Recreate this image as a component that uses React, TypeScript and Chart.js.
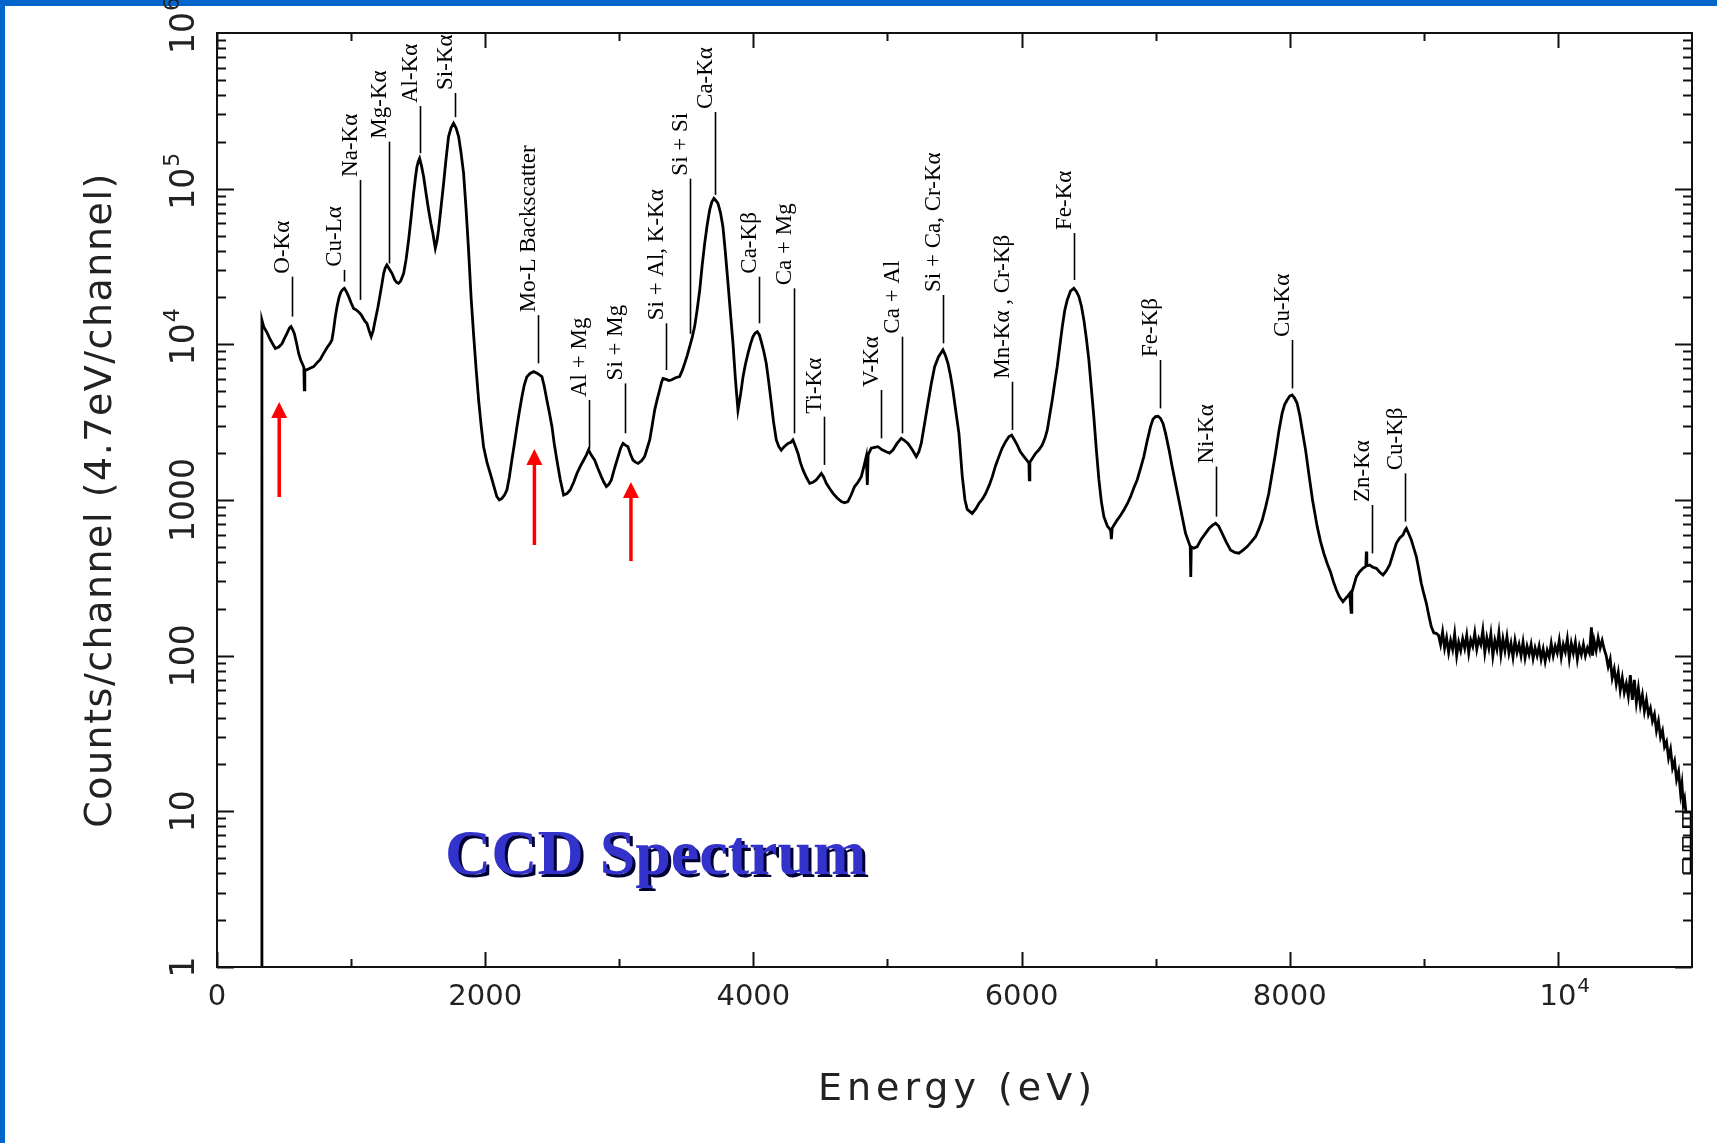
import React, { useEffect, useRef } from "react";
import { Chart, registerables } from "chart.js";

Chart.register(...registerables);

const CANVAS_W = 1717;
const CANVAS_H = 1143;

// ---- spectrum (energy in eV, counts per channel) ----
const energyEV: number[] = [
  335, 335, 348, 375, 398, 420, 435, 460, 485, 505, 522, 540, 552, 565, 577, 593, 609, 625, 640, 648, 651, 655, 666, 690, 721, 745, 770, 795, 820, 845, 857, 870, 882, 895, 910, 925, 940, 950, 965, 982,
  1000, 1019, 1040, 1060, 1075, 1090, 1105, 1118, 1135, 1150, 1165, 1180, 1200, 1218, 1232, 1243, 1255, 1267, 1285, 1305, 1325, 1340, 1354, 1370, 1392, 1410, 1429, 1448, 1466, 1480, 1491, 1502, 1511, 1525, 1541, 1560, 1578, 1595, 1610, 1620, 1628, 1640, 1652, 1670, 1690, 1708, 1727, 1745, 1764, 1783, 1802, 1820, 1839, 1857, 1876, 1895, 1913, 1932, 1951, 1970, 1988,
  2013, 2038, 2062, 2087, 2105, 2125, 2145, 2162, 2180, 2199, 2218, 2237, 2255, 2274, 2292, 2311, 2335, 2361, 2390, 2423, 2440, 2460, 2480, 2498, 2515, 2535, 2560, 2585, 2610, 2634, 2660, 2684, 2710, 2734, 2755, 2771, 2790, 2817, 2840, 2866, 2885, 2904, 2922, 2941, 2965, 2991,
  3010, 3028, 3045, 3065, 3085, 3102, 3120, 3140, 3165, 3189, 3208, 3227, 3245, 3264, 3282, 3301, 3315, 3326, 3350, 3370, 3388, 3420, 3450, 3470, 3488, 3507, 3525, 3543, 3562, 3580, 3600, 3618, 3637, 3655, 3674, 3690, 3706, 3720, 3736, 3755, 3773, 3790, 3811, 3830, 3848, 3866, 3885, 3905, 3923, 3940, 3960, 3978, 3997,
  4013, 4029, 4045, 4059, 4078, 4096, 4115, 4134, 4150, 4171, 4190, 4208, 4230, 4258, 4280, 4295, 4315, 4333, 4350, 4370, 4395, 4420, 4445, 4469, 4490, 4507, 4525, 4544, 4570, 4594, 4625, 4656, 4680, 4705, 4730, 4755, 4780, 4805, 4825, 4842, 4850, 4856, 4879, 4905, 4929, 4960, 4991,
  5015, 5041, 5070, 5103, 5125, 5153, 5185, 5215, 5235, 5252, 5277, 5302, 5327, 5352, 5380, 5414, 5432, 5451, 5470, 5488, 5510, 5533, 5558, 5578, 5595, 5632, 5660, 5682, 5710, 5732, 5760, 5782, 5805, 5831, 5855, 5881, 5905, 5926, 5945, 5968, 5990,
  6018, 6040, 6055, 6058, 6062, 6080, 6105, 6130, 6154, 6175, 6192, 6210, 6229, 6248, 6266, 6285, 6304, 6322, 6341, 6365, 6390, 6410, 6428, 6447, 6465, 6484, 6502, 6520, 6539, 6558, 6577, 6595, 6614, 6640, 6664, 6670, 6676, 6690, 6713, 6740, 6763, 6790, 6813, 6838, 6862, 6888, 6912, 6937, 6962, 6980, 6999,
  7018, 7036, 7055, 7074, 7100, 7123, 7148, 7173, 7198, 7223, 7245, 7258, 7262, 7266, 7285, 7310, 7340, 7372, 7400, 7425, 7447, 7470, 7496, 7525, 7558, 7590, 7621, 7650, 7683, 7715, 7745, 7770, 7795, 7820, 7844, 7870, 7894, 7920, 7943, 7962, 7981,
  8000, 8018, 8037, 8055, 8075, 8093, 8118, 8142, 8170, 8205, 8230, 8254, 8280, 8304, 8325, 8348, 8370, 8397, 8430, 8447, 8458, 8463, 8497, 8520, 8546, 8568, 8571, 8575, 8596, 8620, 8646, 8670, 8696, 8720, 8745, 8770, 8795, 8820, 8845, 8860, 8870, 8890, 8907, 8925, 8944, 8962, 8981,
  9000, 9019, 9038, 9056, 9075, 9093, 9110, 9125, 9140, 9155, 9170, 9185, 9200, 9215, 9230, 9245, 9260, 9275, 9290, 9305, 9320, 9335, 9350, 9365, 9380, 9395, 9410, 9425, 9440, 9455, 9470, 9485, 9500, 9515, 9530, 9545, 9560, 9575, 9590, 9605, 9620, 9635, 9650, 9665, 9680, 9695, 9710, 9725, 9740, 9755, 9770, 9785, 9800, 9815, 9830, 9845, 9860, 9875, 9890, 9905, 9920, 9935, 9950, 9965, 9980, 9995,
  10010, 10025, 10040, 10055, 10070, 10085, 10100, 10115, 10130, 10145, 10160, 10175, 10190, 10205, 10220, 10235, 10250, 10258, 10270, 10285, 10300, 10315, 10330, 10345, 10360, 10375, 10390, 10405, 10420, 10435, 10450, 10465, 10480, 10495, 10510, 10525, 10540, 10555, 10570, 10585, 10600, 10615, 10630, 10645, 10660, 10675, 10690, 10705, 10720, 10735, 10750, 10765, 10780, 10795, 10810, 10825, 10840, 10855, 10870, 10885, 10900, 10915, 10925, 10935, 10945, 10955,
];

const countsPerChannel: number[] = [
  1, 14300, 13000, 11800, 10700, 9900, 9400, 9600, 10100, 11000, 11750, 12700, 13000, 12400, 11700, 10200, 8740, 7900, 7400, 7100, 5100, 6900, 6840, 7000, 7190, 7600, 8000, 8750, 9500, 10200, 10660, 12500, 15000, 17460, 20000, 21800, 22600, 22900, 21800, 20250,
  18500, 17000, 16600, 16000, 15500, 14700, 14000, 13650, 12200, 11200, 12300, 14300, 17300, 21250, 25000, 28560, 31000, 32300, 30500, 28600, 26000, 25000, 24650, 25500, 28600, 35000, 46800, 66000, 93300, 118000, 138000, 150000, 156600, 140000, 119400, 92000, 72900, 60000, 51700, 45500, 41400, 46000, 54300, 75000, 108000, 155000, 216000, 245000, 263000, 245000, 216000, 170000, 125500, 75000, 40400, 20000, 11750, 7000, 4390, 3000, 2200,
  1750, 1480, 1250, 1050, 1000, 1025, 1080, 1160, 1400, 1805, 2300, 2960, 3700, 4610, 5500, 6200, 6500, 6680, 6500, 6200, 5400, 4390, 3600, 2960, 2300, 1800, 1350, 1077, 1100, 1160, 1300, 1480, 1650, 1800, 1950, 2100, 1950, 1800, 1600, 1413, 1300, 1220, 1260, 1345, 1600, 1900,
  2150, 2310, 2250, 2200, 1950, 1805, 1750, 1720, 1780, 1900, 2150, 2430, 3000, 3780, 4400, 5090, 5700, 6040, 5950, 5850, 5900, 6100, 6200, 6800, 7550, 8500, 9660, 11000, 13000, 16500, 22300, 32000, 44500, 58000, 72900, 82000, 86700, 84000, 80500, 70000, 57000, 40000, 24600, 15500, 10150, 6000, 3780, 4800, 6200, 7400, 8750, 10000, 11200,
  11800, 12060, 11500, 10400, 9000, 7550, 5700, 4180, 3200, 2430, 2200, 2090, 2200, 2310, 2350, 2430, 2200, 1990, 1750, 1560, 1400, 1280, 1300, 1345, 1420, 1480, 1400, 1280, 1180, 1104, 1030, 977, 960, 977, 1080, 1220, 1300, 1413, 1650, 1900, 1250, 1950, 2150, 2180, 2200, 2100, 2040,
  2000, 2095, 2300, 2490, 2420, 2310, 2100, 1900, 2050, 2310, 3100, 4180, 5600, 7190, 8300, 9200, 8500, 7550, 6300, 5090, 3700, 2680, 1420, 1000, 870, 820, 880, 950, 1020, 1100, 1250, 1413, 1650, 1900, 2150, 2370, 2550, 2610, 2450, 2255, 2050,
  1900, 1800, 1720, 1345, 1750, 1850, 1995, 2100, 2255, 2500, 2820, 3500, 4390, 5700, 7190, 9700, 13000, 16500, 19260, 22000, 22900, 21800, 20250, 17500, 14300, 10800, 7940, 5300, 3430, 2100, 1345, 980, 781, 680, 641, 560, 660, 690, 743, 800, 862, 950, 1050, 1200, 1345, 1600, 1900, 2400, 2960, 3300, 3430,
  3450, 3350, 3100, 2680, 2100, 1640, 1280, 1000, 780, 611, 540, 502, 320, 500, 490, 502, 560, 611, 660, 690, 708, 680, 611, 540, 478, 460, 455, 475, 502, 540, 581, 650, 743, 900, 1104, 1500, 1995, 2800, 3600, 4100, 4390,
  4650, 4730, 4500, 4180, 3500, 2820, 2100, 1483, 1000, 674, 540, 455, 390, 345, 300, 264, 240, 222, 240, 251, 190, 255, 322, 345, 364, 375, 466, 378, 382, 370, 364, 345, 330, 350, 382, 450, 527, 570, 596, 640, 658, 600, 553, 490, 433, 360, 292,
  250, 217, 180, 153, 140, 139, 135, 118, 142, 112, 130, 105, 125, 110, 138, 100, 122, 108, 128, 112, 135, 104, 126, 115, 140, 110, 128, 118, 145, 105, 130, 112, 138, 100, 125, 110, 140, 102, 128, 108, 132, 104, 120, 98, 125, 105, 118, 100, 122, 97, 115, 102, 118, 96, 112, 100, 115, 95, 110, 92, 108, 98, 120, 100, 115, 104,
  125, 98, 118, 106, 128, 96, 120, 104, 122, 95, 115, 102, 118, 100, 112, 104, 152, 100, 125, 108, 130, 112, 125, 110, 100, 85, 95, 72, 82, 66, 78, 60, 72, 58, 66, 55, 75, 52, 70, 50, 62, 48, 56, 44, 52, 42, 46, 38, 42, 33, 38, 30, 33, 26, 28, 22, 25, 19, 21, 16, 18, 13, 15, 11, 12, 9.8,
];

// small empty-channel ladder at the right end of the spectrum
const boxEnergyEV = [10932, 10989, 10989, 10932, 10932, 10989, 10989, 10932, 10932, 10989, 10989, 10932, 10932];
const boxCounts = [4.0, 4.0, 9.8, 9.8, 7.9, 7.9, 6.8, 6.8, 5.6, 5.6, 4.9, 4.9, 4.0];

// ---- peak identifications ----
const peakNames = [
  "O-Kα", "Cu-Lα", "Na-Kα", "Mg-Kα", "Al-Kα", "Si-Kα", "Mo-L Backscatter", "Al + Mg", "Si + Mg",
  "Si + Al, K-Kα", "Si + Si", "Ca-Kα", "Ca-Kβ", "Ca + Mg", "Ti-Kα", "V-Kα", "Ca + Al", "Si + Ca, Cr-Kα",
  "Mn-Kα , Cr-Kβ", "Fe-Kα", "Fe-Kβ", "Ni-Kα", "Cu-Kα", "Zn-Kα", "Cu-Kβ",
];
const peakEnergyEV = [560, 950, 1070, 1281, 1517, 1776, 2393, 2776, 3040, 3346, 3525, 3715, 4042, 4300, 4526, 4949, 5108, 5414, 5931, 6388, 7032, 7451, 8018, 8614, 8857];
const peakLineTop = [27200, 30100, 113800, 200500, 339600, 412000, 15400, 4390, 5610, 13650, 116000, 311000, 27200, 22900, 3430, 5090, 11200, 20750, 5750, 51900, 7940, 1640, 10670, 929, 1483];
const peakLineBottom = [15070, 25300, 19300, 33100, 169000, 288000, 7550, 2130, 2680, 6840, 11700, 91200, 13650, 2680, 1680, 2490, 2680, 10150, 2820, 25900, 3880, 782, 5210, 454, 726];

// ---- red arrows ----
const arrowEnergyEV = [464, 2367, 3087];
const arrowTipCounts = [4266, 2128, 1306];
const arrowTailCounts = [1045, 514, 405];

// ---- axes ----
const xTickValues = [0, 2000, 4000, 6000, 8000, 10000];
const xTickLabels = ["0", "2000", "4000", "6000", "8000", "10^4"];
const xMinorTickValues = [1000, 3000, 5000, 7000, 9000];
const yTickValues = [1, 10, 100, 1000, 10000, 100000, 1000000];
const yTickLabels = ["1", "10", "100", "1000", "10^4", "10^5", "10^6"];

const X_TITLE = "Energy (eV)";
const Y_TITLE = "Counts/channel (4.7eV/channel)";
const PANEL_TEXT = "CCD Spectrum";

const AXIS_FONT = '"DejaVu Sans", "Liberation Sans", sans-serif';
const SERIF_FONT = '"Liberation Serif", "DejaVu Serif", serif';

function drawPow(ctx: CanvasRenderingContext2D, label: string, size: number) {
  // draws label centred at (0,0), with optional superscript exponent
  const parts = label.split("^");
  ctx.font = `${size}px ${AXIS_FONT}`;
  ctx.textAlign = "center";
  ctx.textBaseline = "alphabetic";
  ctx.fillText(parts[0], 0, 0);
  if (parts.length > 1) {
    const w = ctx.measureText(parts[0]).width;
    ctx.font = `${Math.round(size * 0.68)}px ${AXIS_FONT}`;
    ctx.textAlign = "left";
    ctx.fillText(parts[1], w / 2 + 1, -size * 0.45);
  }
}

const decorPlugin = {
  id: "decor",
  beforeDraw(chart: any) {
    const ctx: CanvasRenderingContext2D = chart.ctx;
    ctx.save();
    ctx.fillStyle = "#ffffff";
    ctx.fillRect(0, 0, CANVAS_W, CANVAS_H);
    ctx.fillStyle = "#0066CC";
    ctx.fillRect(0, 0, CANVAS_W, 6);
    ctx.fillRect(0, 0, 5, CANVAS_H);
    ctx.restore();
  },
  afterDatasetsDraw(chart: any) {
    const ctx: CanvasRenderingContext2D = chart.ctx;
    const xs = chart.scales.x;
    const ys = chart.scales.y;
    const { left, right, top, bottom } = chart.chartArea;
    ctx.save();

    // frame
    ctx.strokeStyle = "#111";
    ctx.lineWidth = 2;
    ctx.strokeRect(left, top, right - left, bottom - top);

    // x ticks (bottom & top, inward)
    ctx.beginPath();
    xTickValues.forEach((v) => {
      const x = Math.round(xs.getPixelForValue(v)) + 0.5;
      ctx.moveTo(x, bottom); ctx.lineTo(x, bottom - 15);
      ctx.moveTo(x, top); ctx.lineTo(x, top + 15);
    });
    xMinorTickValues.forEach((v) => {
      const x = Math.round(xs.getPixelForValue(v)) + 0.5;
      ctx.moveTo(x, bottom); ctx.lineTo(x, bottom - 8);
      ctx.moveTo(x, top); ctx.lineTo(x, top + 8);
    });
    // y ticks (left & right, inward)
    for (let d = 0; d < 6; d++) {
      for (let m = 1; m <= 9; m++) {
        const v = m * Math.pow(10, d);
        const y = Math.round(ys.getPixelForValue(v)) + 0.5;
        const len = m === 1 ? 17 : 9;
        ctx.moveTo(left, y); ctx.lineTo(left + len, y);
        ctx.moveTo(right, y); ctx.lineTo(right - len, y);
      }
    }
    ctx.stroke();

    // tick labels
    ctx.fillStyle = "#222";
    xTickValues.forEach((v, i) => {
      ctx.save();
      ctx.translate(xs.getPixelForValue(v), 1005);
      drawPow(ctx, xTickLabels[i], 29);
      ctx.restore();
    });
    yTickValues.forEach((v, i) => {
      ctx.save();
      ctx.translate(194, ys.getPixelForValue(v));
      ctx.rotate(-Math.PI / 2);
      drawPow(ctx, yTickLabels[i], 33);
      ctx.restore();
    });

    // axis titles
    (ctx as any).letterSpacing = "5px";
    ctx.font = `38px ${AXIS_FONT}`;
    ctx.textAlign = "center";
    ctx.textBaseline = "alphabetic";
    ctx.fillText(X_TITLE, (left + right) / 2 + 3, 1100);
    ctx.save();
    (ctx as any).letterSpacing = "1.5px";
    ctx.translate(111, (top + bottom) / 2);
    ctx.rotate(-Math.PI / 2);
    ctx.fillText(Y_TITLE, 0, 0);
    ctx.restore();
    (ctx as any).letterSpacing = "0px";

    // peak identification lines and labels
    ctx.fillStyle = "#000";
    ctx.strokeStyle = "#000";
    ctx.lineWidth = 1.6;
    ctx.font = `23px ${SERIF_FONT}`;
    peakNames.forEach((name, i) => {
      const x = Math.round(xs.getPixelForValue(peakEnergyEV[i])) + 0.5;
      const yT = ys.getPixelForValue(peakLineTop[i]);
      const yB = ys.getPixelForValue(peakLineBottom[i]);
      ctx.beginPath();
      ctx.moveTo(x, yT); ctx.lineTo(x, yB);
      ctx.stroke();
      ctx.save();
      ctx.translate(x - 4, yT - 3);
      ctx.rotate(-Math.PI / 2);
      ctx.textAlign = "left";
      ctx.textBaseline = "alphabetic";
      ctx.fillText(name, 0, 0);
      ctx.restore();
    });

    // red arrows
    ctx.strokeStyle = "#FF0000";
    ctx.fillStyle = "#FF0000";
    ctx.lineWidth = 3.5;
    arrowEnergyEV.forEach((e, i) => {
      const x = xs.getPixelForValue(e);
      const yTip = ys.getPixelForValue(arrowTipCounts[i]);
      const yTail = ys.getPixelForValue(arrowTailCounts[i]);
      ctx.beginPath();
      ctx.moveTo(x, yTail); ctx.lineTo(x, yTip + 14);
      ctx.stroke();
      ctx.beginPath();
      ctx.moveTo(x, yTip);
      ctx.lineTo(x - 8, yTip + 16);
      ctx.lineTo(x + 8, yTip + 16);
      ctx.closePath();
      ctx.fill();
    });

    // panel text
    ctx.font = `bold 64px ${SERIF_FONT}`;
    ctx.textAlign = "left";
    ctx.textBaseline = "alphabetic";
    ctx.fillStyle = "#000033";
    ctx.fillText(PANEL_TEXT, 448, 877);
    ctx.fillStyle = "#3333CC";
    ctx.fillText(PANEL_TEXT, 445, 874);

    ctx.restore();
  },
};

export default function App() {
  const ref = useRef<HTMLCanvasElement | null>(null);
  useEffect(() => {
    if (!ref.current) return;
    const spectrum = energyEV.map((e, i) => ({ x: e, y: countsPerChannel[i] }));
    const box = boxEnergyEV.map((e, i) => ({ x: e, y: boxCounts[i] }));
    const chart = new Chart(ref.current, {
      type: "line",
      data: {
        datasets: [
          { data: spectrum, borderColor: "#000", borderWidth: 2.8, pointRadius: 0, tension: 0, fill: false },
          { data: box, borderColor: "#000", borderWidth: 1.5, pointRadius: 0, tension: 0, fill: false },
        ],
      },
      options: {
        animation: false,
        responsive: false,
        devicePixelRatio: 1,
        layout: { padding: { left: 217, top: 33, right: 25, bottom: 176 } },
        plugins: { legend: { display: false }, tooltip: { enabled: false } },
        events: [],
        scales: {
          x: { type: "linear", min: 0, max: 11000, display: false },
          y: { type: "logarithmic", min: 1, max: 1000000, display: false },
        },
      },
      plugins: [decorPlugin],
    });
    return () => chart.destroy();
  }, []);
  return (
    <div style={{ position: "absolute", left: 0, top: 0, width: CANVAS_W, height: CANVAS_H, overflow: "hidden" }}>
      <canvas ref={ref} width={CANVAS_W} height={CANVAS_H} style={{ display: "block", width: CANVAS_W, height: CANVAS_H }} />
    </div>
  );
}
